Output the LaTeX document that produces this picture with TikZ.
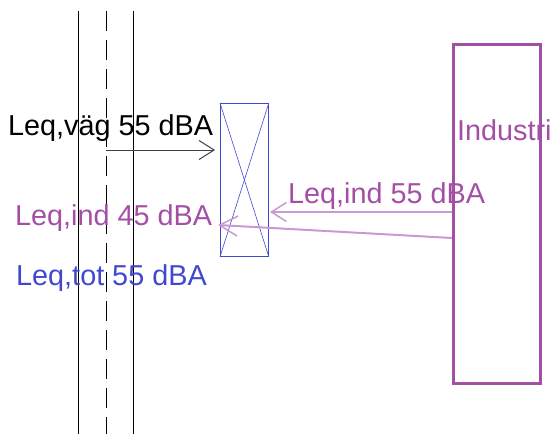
\documentclass[tikz,border=0pt]{standalone}
\usepackage{fontspec}
\setmainfont{Liberation Sans}
\usetikzlibrary{arrows.meta}
\definecolor{roadgray}{HTML}{404040}
\definecolor{recvblue}{HTML}{4048D0}
\definecolor{indpurple}{HTML}{A34FA6}
\definecolor{lightpurple}{HTML}{C99AD2}
\tikzset{
  lbl/.style={anchor=base west, inner sep=0pt, font=\fontsize{28.8}{30}\selectfont},
  roadline/.style={black, line width=1pt},
}
\begin{document}
\begin{tikzpicture}[x=1pt,y=-1pt]
\useasboundingbox (0,0) rectangle (550,434);
\clip (0,0) rectangle (550,434);
% road lines
\coordinate (r1t) at (78,11);  \coordinate (r1b) at (78,434);
\coordinate (r2t) at (106,11); \coordinate (r2b) at (106,434);
\coordinate (r3t) at (133,11); \coordinate (r3b) at (133,434);
\draw[roadline] (r1t) -- (r1b);
\draw[roadline, dash pattern=on 20pt off 9pt] (r2t) -- (r2b);
\draw[roadline] (r3t) -- (r3b);
% receiver box
\node[draw=recvblue, line width=0.8pt, minimum width=48pt, minimum height=153pt, inner sep=0pt, anchor=north west] (recv) at (220,103) {};
\draw[recvblue, line width=0.6pt] (recv.north west) -- (recv.south east);
\draw[recvblue, line width=0.6pt] (recv.south west) -- (recv.north east);
% industry box
\node[draw=indpurple, line width=3pt, minimum width=87pt, minimum height=339pt, inner sep=0pt, anchor=north west] (ind) at (452,43) {};
\node[lbl, text=indpurple] (indlbl) at (457,140) {Industri};
% labels
\node[lbl, text=black] (lvag) at (8,135) {Leq,väg 55 dBA};
\node[lbl, text=indpurple] (lind55) at (288,203) {Leq,ind 55 dBA};
\node[lbl, text=indpurple] (lind45) at (15,225) {Leq,ind 45 dBA};
\node[lbl, text=recvblue] (ltot) at (16,285) {Leq,tot 55 dBA};
% arrows
\coordinate (vagstart) at (106,150);
\coordinate (vagend) at (215,150);
\draw[roadgray, line width=1pt, -{Straight Barb[length=15pt,width=19pt,line width=1pt]}] (vagstart) -- (vagend);
\coordinate (ind1s) at (ind.west |- 0,212);
\coordinate (ind1e) at (270,212);
\draw[lightpurple, line width=2pt, -{Straight Barb[length=15pt,width=19pt,line width=1.5pt]}] (ind1s) -- (ind1e);
\coordinate (ind2s) at (ind.west |- 0,238);
\coordinate (ind2e) at (218,225);
\draw[lightpurple, line width=2pt, -{Straight Barb[length=18pt,width=20pt,line width=1.5pt]}] (ind2s) -- (ind2e);
\end{tikzpicture}
\end{document}
